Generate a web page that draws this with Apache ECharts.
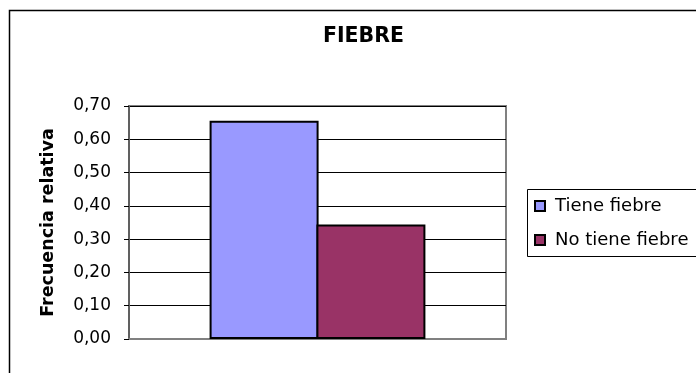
<!DOCTYPE html>
<html>
<head>
<meta charset="utf-8">
<script src="https://cdn.jsdelivr.net/npm/echarts@6/dist/echarts.min.js"></script>
<style>html,body{margin:0;padding:0;background:#fff;}#c{width:696px;height:373px;}</style>
</head>
<body>
<div id="c"></div>
<script>
var categories = [''];
var seriesNames = ['Tiene fiebre', 'No tiene fiebre'];
var tieneFiebre = [0.656];
var noTieneFiebre = [0.344];
var seriesColors = ['#9999FF', '#993366'];

var chart = echarts.init(document.getElementById('c'), null, {renderer: 'canvas'});
var font = 'DejaVu Sans, Liberation Sans, sans-serif';
chart.setOption({
  animation: false,
  backgroundColor: '#fff',
  title: {
    text: 'FIEBRE', left: 358.5, top: 21, textAlign: 'center',
    textStyle: {fontFamily: font, fontSize: 20.5, fontWeight: 'bold', color: '#000'}
  },
  grid: {left: 129, top: 106, width: 377, height: 233, show: true, borderColor: '#808080', borderWidth: 2, backgroundColor: 'transparent'},
  legend: {
    orient: 'vertical', left: 529, top: 192, itemWidth: 10, itemHeight: 10, itemGap: 16,
    icon: 'rect', data: seriesNames,
    itemStyle: {borderColor: '#000', borderWidth: 2},
    textStyle: {fontFamily: font, fontSize: 18, color: '#000', padding: [0, 0, 0, 5]}
  },
  xAxis: {
    type: 'category', data: categories,
    axisLine: {show: true, lineStyle: {color: '#808080', width: 2}},
    axisTick: {show: false}, axisLabel: {show: false}, splitLine: {show: false}
  },
  yAxis: {
    type: 'value', min: 0, max: 0.7, interval: 0.1,
    name: 'Frecuencia relativa', nameLocation: 'middle', nameGap: 72, nameRotate: 90,
    nameTextStyle: {fontFamily: font, fontSize: 17.5, fontWeight: 'bold', color: '#000'},
    axisLine: {show: true, lineStyle: {color: '#606060', width: 2}},
    axisTick: {show: true, length: 5, lineStyle: {color: '#000'}},
    axisLabel: {
      fontFamily: font, fontSize: 17, color: '#000', margin: 18,
      formatter: function (v) { return v.toFixed(2).replace('.', ','); }
    },
    splitLine: {show: true, lineStyle: {color: '#000', width: 1}}
  },
  series: [
    {name: seriesNames[0], type: 'bar', data: tieneFiebre, barWidth: 109, barGap: '-2%',
     itemStyle: {color: seriesColors[0], borderColor: '#000', borderWidth: 2}},
    {name: seriesNames[1], type: 'bar', data: noTieneFiebre, barWidth: 109, barGap: '-2%',
     itemStyle: {color: seriesColors[1], borderColor: '#000', borderWidth: 2}}
  ],
  graphic: [
    {type: 'rect', shape: {x: 9.5, y: 10.5, width: 720, height: 400}, style: {fill: 'none', stroke: '#000', lineWidth: 1.5}, silent: true},
    {type: 'rect', shape: {x: 527.5, y: 189.5, width: 200, height: 67}, style: {fill: 'none', stroke: '#000', lineWidth: 1}, silent: true}
  ]
});
</script>
</body>
</html>
